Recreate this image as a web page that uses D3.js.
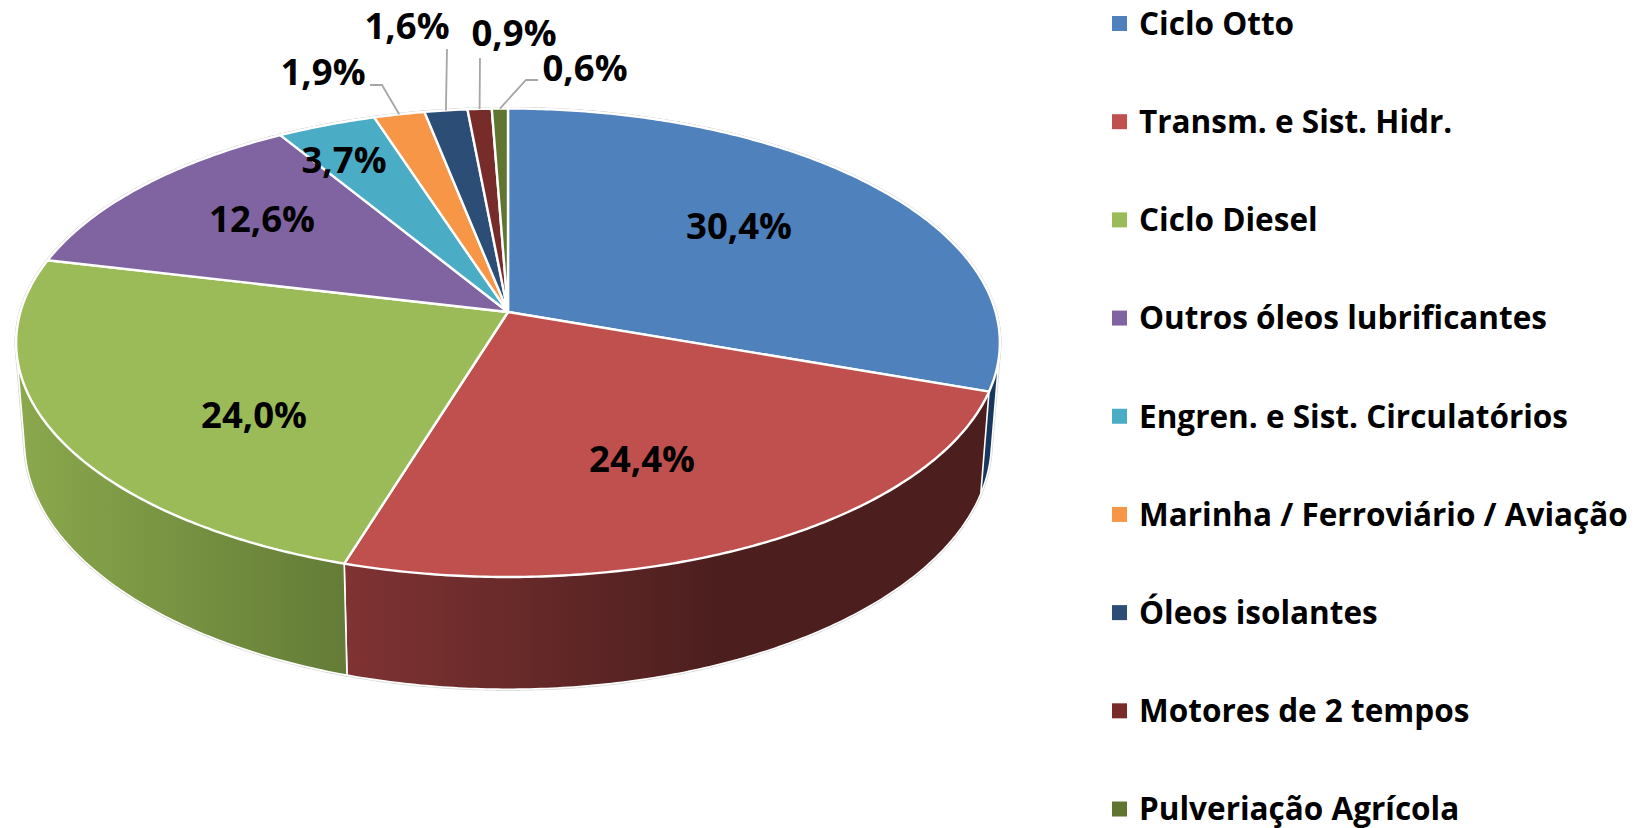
<!DOCTYPE html>
<html lang="pt">
<head>
<meta charset="UTF-8">
<title>Óleos lubrificantes</title>
<style>
  html, body { margin: 0; padding: 0; background: #fff; }
  svg { display: block; }
  text { font-family: "Open Sans", Lato, sans-serif; font-weight: 700; fill: #000; }
</style>
</head>
<body>
<svg id="chart"></svg>
<script src="https://d3js.org/d3.v7.min.js"></script>
<script>
// chart data
const categories = ["Ciclo Otto", "Transm. e Sist. Hidr.", "Ciclo Diesel", "Outros óleos lubrificantes",
  "Engren. e Sist. Circulatórios", "Marinha / Ferroviário / Aviação", "Óleos isolantes",
  "Motores de 2 tempos", "Pulveriação Agrícola"];
const shares = [30.4, 24.4, 24.0, 12.6, 3.7, 1.9, 1.6, 0.9, 0.6];

// styling
const topColors = ["#4f81bd", "#c0504d", "#9bbb59", "#8064a2", "#4bacc6", "#f79646", "#2c4d75", "#772c2a", "#5f7530"];
const wallFrom = ["#17375e", "#803333", "#8aa84c", "#4d3b62", "#2d6b7a", "#95591f", "#1a2e47", "#481a19", "#39461d"];
const wallTo = ["#17375e", "#4c1e1e", "#647c37", "#4d3b62", "#2d6b7a", "#95591f", "#1a2e47", "#481a19", "#39461d"];
const labelCenters = [[739, 226], [642, 459], [254, 415], [262, 219], [344, 160], [323, 72], [407, 26], [514, 33], [585, 68]];
const leaderElbows = [null, null, null, null, null, [[370, 85], [382, 85]], [[447, 49]], [[480, 58]], [[538, 80], [526, 80]]];

const width = 1636, height = 828;
const svg = d3.select("#chart").attr("width", width).attr("height", height);

// the disc is a circle seen in perspective, so slice angles are projected instead of using d3.arc
const persp = 0.1313;
const disc = { x: 508, y: 312, a: 487.6, b: 230.2 };
const wallDrop = 97.5, wallShrink = 0.983;

function project(angle) {
  const u = Math.sin(angle), v = -Math.cos(angle);
  const s = 1 / (1 - persp * v);
  return [disc.x + disc.a * u * s, disc.y + disc.b * v * s, s];
}

// same rim point on the underside of the disc
function projectBase(angle) {
  const [x, y, s] = project(angle);
  return [disc.x + (x - disc.x) * wallShrink, y + wallDrop * s];
}

function rim(fn, d) {
  const n = Math.max(2, Math.ceil((d.endAngle - d.startAngle) / 0.01));
  return d3.range(n + 1).map(i => fn(d.startAngle + (d.endAngle - d.startAngle) * i / n).slice(0, 2));
}

const pie = d3.pie().sort(null).value(d => d);
const slices = pie(shares);
const line = d3.line();
const pct = d3.formatLocale({ decimal: ",", thousands: ".", grouping: [3], currency: ["", ""] }).format(".1f");
const wallPath = d => line(d3.polygonHull(rim(project, d).concat(rim(projectBase, d)))) + "Z";
const topPath = d => line([[disc.x, disc.y]].concat(rim(project, d))) + "Z";

const defs = svg.append("defs");
const grads = defs.selectAll("linearGradient").data(slices).join("linearGradient")
  .attr("id", (d, i) => "wall" + i)
  .attr("gradientUnits", "userSpaceOnUse")
  .attr("x1", (d, i) => i === 1 ? 344 : 20).attr("x2", (d, i) => i === 1 ? 720 : 344)
  .attr("y1", 0).attr("y2", 0);
grads.append("stop").attr("offset", 0).attr("stop-color", (d, i) => wallFrom[i]);
grads.append("stop").attr("offset", 1).attr("stop-color", (d, i) => wallTo[i]);

// faint halo round the whole solid
const halo = svg.append("g").attr("fill", "none").attr("stroke", "#d4d4d4").attr("stroke-width", 3);
halo.selectAll(".w").data(slices).join("path").attr("class", "w").attr("d", wallPath);
halo.selectAll(".t").data(slices).join("path").attr("class", "t").attr("d", topPath);

// side walls first, the top covers whatever is behind it
svg.append("g").selectAll("path").data(slices).join("path")
  .attr("d", wallPath)
  .attr("fill", (d, i) => `url(#wall${i})`)
  .attr("stroke", "#fff").attr("stroke-width", 1.6).attr("stroke-linejoin", "round");

svg.append("g").selectAll("path").data(slices).join("path")
  .attr("d", topPath)
  .attr("fill", (d, i) => topColors[i])
  .attr("stroke", "#fff").attr("stroke-width", 2.4).attr("stroke-linejoin", "round");

// leader lines of the small slices
svg.append("g").selectAll("path").data(slices.filter((d, i) => leaderElbows[i])).join("path")
  .attr("d", d => line(leaderElbows[d.index].concat([project((d.startAngle + d.endAngle) / 2).slice(0, 2)])))
  .attr("fill", "none").attr("stroke", "#a6a6a6").attr("stroke-width", 1.8);

svg.append("g").selectAll("text").data(slices).join("text")
  .attr("x", (d, i) => labelCenters[i][0]).attr("y", (d, i) => labelCenters[i][1])
  .attr("text-anchor", "middle").attr("dy", "0.36em")
  .attr("font-size", 36.5)
  .text(d => pct(d.data) + "%");

// legend
const legendY = d3.scalePoint().domain(categories).range([23.5, 809]);
const legend = svg.append("g").selectAll("g").data(categories).join("g")
  .attr("transform", d => `translate(1112,${legendY(d)})`);
legend.append("rect").attr("y", -7.5).attr("width", 15).attr("height", 15)
  .attr("fill", (d, i) => topColors[i]);
legend.append("text").attr("x", 27).attr("dy", "0.36em").attr("font-size", 31.5).text(d => d);
</script>
</body>
</html>
